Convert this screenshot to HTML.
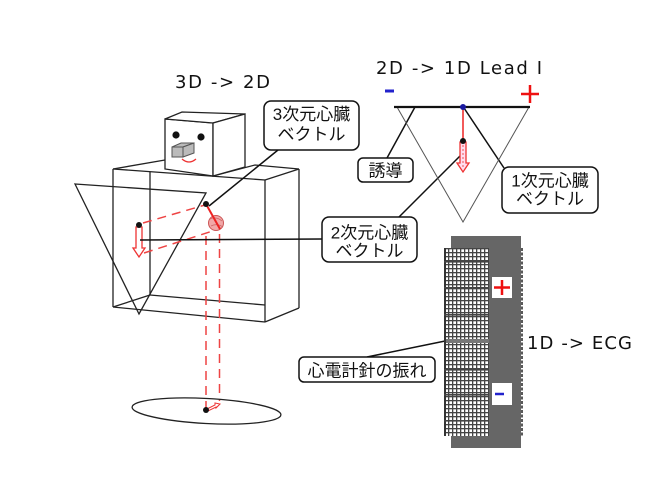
<!DOCTYPE html>
<html><head><meta charset="utf-8">
<style>
html,body{margin:0;padding:0;background:#fff;}
svg{display:block;}
.t{font-family:"DejaVu Sans","Liberation Sans",sans-serif;font-size:18px;fill:#111;}
.j{font-family:"Liberation Sans","Noto Sans CJK JP",sans-serif;font-size:17px;fill:#111;}
</style></head>
<body>
<svg width="671" height="504" viewBox="0 0 671 504" xmlns="http://www.w3.org/2000/svg">
<defs>
<pattern id="g" x="444" y="248" width="4" height="4" patternUnits="userSpaceOnUse">
<rect width="4" height="4" fill="#fff"/>
<rect x="0" y="0" width="1.3" height="4" fill="#444"/>
<rect x="0" y="0" width="4" height="1.3" fill="#444"/>
</pattern>
</defs>

<!-- Titles -->
<text class="t" x="175" y="88" textLength="95">3D -&gt; 2D</text>
<text class="t" x="376" y="74" textLength="166">2D -&gt; 1D  Lead I</text>
<text class="t" x="527" y="349" textLength="105">1D -&gt; ECG</text>

<!-- Torso -->
<g stroke="#222" stroke-width="1.3" fill="none">
<line x1="113" y1="169" x2="113" y2="307"/>
<line x1="150" y1="172" x2="150" y2="295"/>
<line x1="265" y1="180" x2="265" y2="322"/>
<line x1="299" y1="169" x2="299" y2="308"/>
<line x1="113" y1="169" x2="265" y2="180"/>
<line x1="265" y1="180" x2="299" y2="169"/>
<line x1="113" y1="169" x2="165" y2="160"/>
<polyline points="213,176 255,165 299,169"/>
<line x1="113" y1="307" x2="150" y2="295"/>
<line x1="150" y1="295" x2="265" y2="305"/>
<line x1="113" y1="307" x2="265" y2="322"/>
<line x1="265" y1="322" x2="299" y2="308"/>
</g>

<!-- Head -->
<g stroke="#222" stroke-width="1.3" fill="#fff">
<polygon points="165,119 213,123 213,176 165,169"/>
<polygon points="165,119 182,112 245,114 213,123"/>
<polygon points="213,123 245,114 245,167 213,176"/>
</g>
<circle cx="176" cy="135" r="3.6" fill="#111"/>
<circle cx="201" cy="137" r="3.6" fill="#111"/>
<g stroke="#555" stroke-width="1" fill="#bbb">
<polygon points="172,147 183,147 183,157 172,157"/>
<polygon points="172,147 181,143 194,143 183,147"/>
<polygon points="183,147 194,143 194,153 183,157"/>
</g>
<path d="M182,159 Q189,165 196,159" stroke="#e33" stroke-width="1.3" fill="none"/>

<!-- projection triangle -->
<polygon points="75,184 206,193 139,314" fill="none" stroke="#222" stroke-width="1.3"/>

<!-- red dashed -->
<g stroke="#e44" stroke-width="1.5" fill="none" stroke-dasharray="9,6">
<line x1="143" y1="223" x2="205" y2="205"/>
<line x1="144" y1="253" x2="219" y2="229"/>
<line x1="206" y1="236" x2="206" y2="408"/>
<line x1="219.5" y1="234" x2="219.5" y2="401"/>
</g>

<!-- ground ellipse -->
<ellipse cx="206.5" cy="411" rx="74.5" ry="12.5" transform="rotate(3 206.5 411)" fill="none" stroke="#222" stroke-width="1.3"/>
<polygon points="207,409 215,405 215,403 220,404 216,408 216,407 208,411" fill="none" stroke="#e33" stroke-width="1"/>
<circle cx="206" cy="410" r="3" fill="#111"/>

<!-- 2D arrow -->
<polygon points="136,227 142,227 142,248 145,248 139,257 133,248 136,248" fill="none" stroke="#e33" stroke-width="1.3"/>
<circle cx="139" cy="225" r="3" fill="#111"/>

<!-- heart & 3D vector -->
<circle cx="216" cy="223" r="7.5" fill="#f2a8a8" stroke="#c55" stroke-width="1"/>
<path d="M210,219 Q216,216 222,221 M211,226 Q217,223 223,227" stroke="#c66" stroke-width="0.8" fill="none"/>
<line x1="206" y1="204" x2="220" y2="229" stroke="#e22" stroke-width="2"/>
<circle cx="206" cy="204" r="3" fill="#111"/>

<!-- leaders -->
<g stroke="#111" stroke-width="1.5">
<line x1="278" y1="150" x2="209" y2="206"/>
<line x1="140" y1="240" x2="322" y2="239"/>
<line x1="398" y1="218" x2="463" y2="153"/>
<line x1="387" y1="158" x2="415" y2="107"/>
<line x1="504" y1="168" x2="464" y2="108"/>
<line x1="367" y1="357" x2="450" y2="340"/>
</g>

<!-- lead triangle -->
<polygon points="397,107 529,107 463,222" fill="none" stroke="#555" stroke-width="1"/>
<line x1="394" y1="107" x2="530" y2="107" stroke="#111" stroke-width="2.2"/>
<line x1="385" y1="91" x2="394" y2="91" stroke="#22c" stroke-width="3"/>
<line x1="521" y1="94" x2="539" y2="94" stroke="#e11" stroke-width="2.5"/>
<line x1="530" y1="85" x2="530" y2="103" stroke="#e11" stroke-width="2.5"/>
<line x1="463" y1="107" x2="463" y2="140" stroke="#e22" stroke-width="1.5"/>
<polygon points="460,142 466,142 466,163 469,163 463,172 457,163 460,163" fill="#fde" stroke="#e33" stroke-width="1.3"/>
<line x1="463" y1="145" x2="463" y2="168" stroke="#e55" stroke-width="1" stroke-dasharray="2,2"/>
<circle cx="463" cy="141" r="3" fill="#111"/>
<circle cx="463" cy="107" r="3" fill="#1a1aa0"/>

<!-- ECG strip -->
<rect x="451" y="236" width="70" height="212" fill="#666"/>
<rect x="444" y="248" width="45" height="188" fill="url(#g)"/>
<rect x="444" y="248" width="2" height="188" fill="#333"/>
<g fill="#444">
<rect x="444" y="261" width="45" height="1.6"/>
<rect x="444" y="287" width="45" height="1.6"/>
<rect x="444" y="314" width="45" height="1.6"/>
<rect x="444" y="369" width="45" height="1.6"/>
<rect x="444" y="394" width="45" height="1.6"/>
<rect x="444" y="420" width="45" height="1.6"/>
</g>
<rect x="446" y="339" width="43" height="4" fill="#777"/>
<line x1="522" y1="248" x2="522" y2="437" stroke="#222" stroke-width="1.5" stroke-dasharray="3,1.5"/>
<rect x="492" y="277" width="20" height="21" fill="#fff"/>
<line x1="494" y1="287.5" x2="510" y2="287.5" stroke="#e11" stroke-width="2.5"/>
<line x1="502" y1="280" x2="502" y2="295" stroke="#e11" stroke-width="2.5"/>
<rect x="492" y="383" width="20" height="22" fill="#fff"/>
<line x1="495" y1="394" x2="504" y2="394" stroke="#22c" stroke-width="2.5"/>

<!-- callout boxes -->
<g fill="#fff" stroke="#111" stroke-width="1.5">
<rect x="264" y="101" width="95" height="49" rx="7"/>
<rect x="322" y="217" width="95" height="45" rx="7"/>
<rect x="502" y="167" width="96" height="46" rx="7"/>
<rect x="358" y="158" width="55" height="24" rx="5"/>
<rect x="299" y="357" width="136" height="25" rx="5"/>
</g>
<g class="j" text-anchor="middle">
<text x="311.5" y="120" class="j">3次元心臓</text>
<text x="311.5" y="140" class="j">ベクトル</text>
<text x="369.5" y="238.5" class="j">2次元心臓</text>
<text x="369.5" y="256.5" class="j">ベクトル</text>
<text x="550" y="186.5" class="j">1次元心臓</text>
<text x="550" y="204.5" class="j">ベクトル</text>
<text x="385.5" y="176.5" class="j">誘導</text>
<text x="367" y="376.5" class="j">心電計針の振れ</text>
</g>
</svg>
</body></html>
